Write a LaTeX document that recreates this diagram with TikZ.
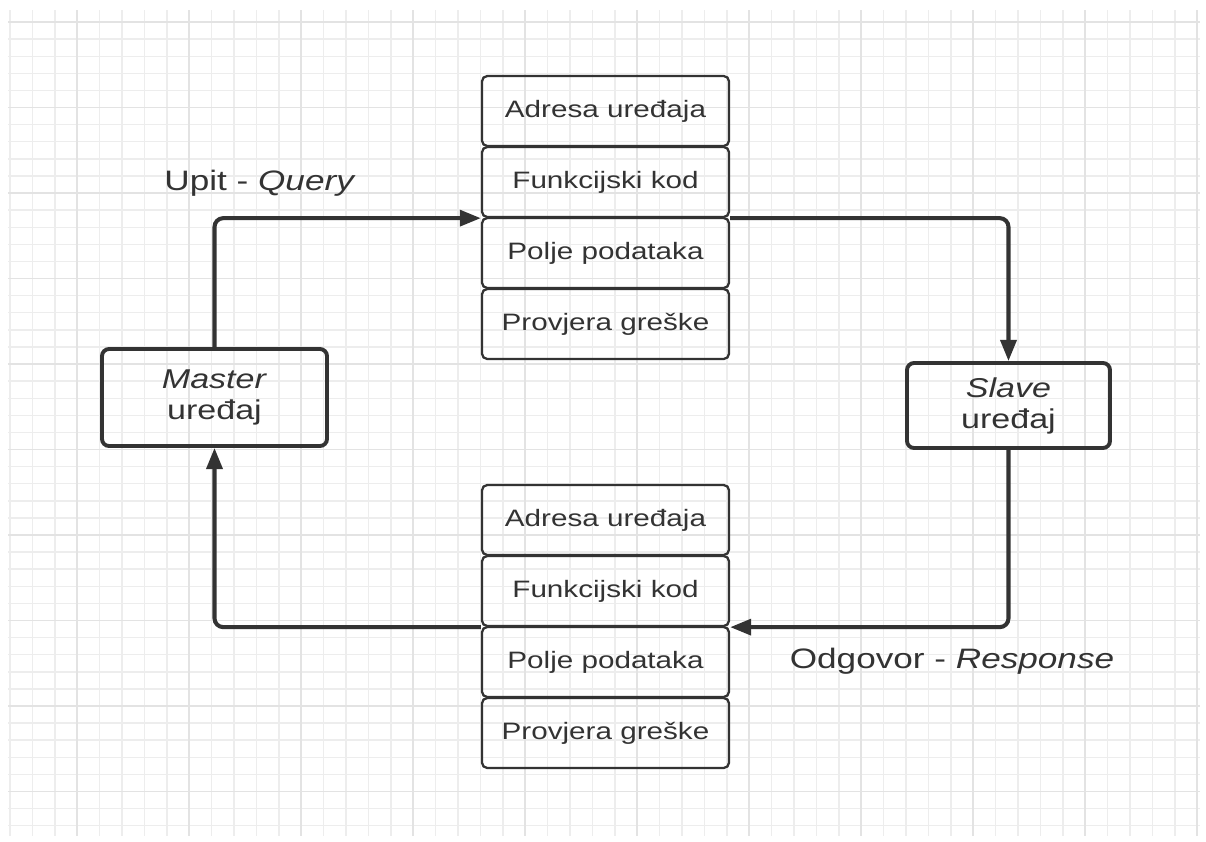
\documentclass[tikz,border=0pt]{standalone}
\usepackage{fontspec}
\setmainfont{Liberation Sans}[FakeStretch=1.25]
\usetikzlibrary{positioning,arrows.meta}
\definecolor{ink}{HTML}{333333}
\tikzset{
  field/.style={rectangle, draw=ink, line width=1.3pt, rounded corners=3pt, minimum width=4.94cm, minimum height=1.4cm, text=ink, font=\fontsize{13.5}{16}\selectfont},
  device/.style={rectangle, draw=ink, line width=2.2pt, rounded corners=4pt, text=ink, align=center, font=\fontsize{15.5}{17.6}\selectfont},
  flow/.style={draw=ink, line width=2.3pt, rounded corners=5pt, -{Triangle[length=12pt,width=9pt]}},
  caption/.style={text=ink, font=\fontsize{16}{19}\selectfont}
}

\begin{document}
\begin{tikzpicture}[node distance=1.42cm]
  \useasboundingbox (0,0) rectangle (24.12,-16.82);
  % grid paper
  \foreach \k in {0,...,53}
    \draw[black!7, line width=0.8pt] (0.2+0.448*\k,-0.2) -- (0.2+0.448*\k,-16.72);
  \foreach \k in {0,...,47}
    \draw[black!7, line width=0.8pt] (0.16,-0.44-0.342*\k) -- (24.0,-0.44-0.342*\k);
  \foreach \k in {3,8,...,53}
    \draw[black!11, line width=1pt] (0.2+0.448*\k,-0.2) -- (0.2+0.448*\k,-16.72);
  \foreach \k in {0,5,...,45}
    \draw[black!11, line width=1pt] (0.16,-0.44-0.342*\k) -- (24.0,-0.44-0.342*\k);

  % devices
  \node[device, minimum width=4.5cm, minimum height=1.94cm] (master) at (4.29,-7.95) {\textit{Master}\\uređaj};
  \node[device, minimum width=4.06cm, minimum height=1.7cm] (slave) at (20.17,-8.11) {\textit{Slave}\\uređaj};

  % query frame
  \node[field] (qa) at (12.11,-2.22) {Adresa uređaja};
  \node[field] (qf) [below of=qa] {Funkcijski kod};
  \node[field] (qp) [below of=qf] {Polje podataka};
  \node[field] (qe) [below of=qp] {Provjera greške};

  % response frame
  \node[field] (ra) at (12.11,-10.4) {Adresa uređaja};
  \node[field] (rf) [below of=ra] {Funkcijski kod};
  \node[field] (rp) [below of=rf] {Polje podataka};
  \node[field] (re) [below of=rp] {Provjera greške};

  \node[caption] (query) at (5.2,-3.66) {Upit - \textit{Query}};
  \node[caption] (response) at (19.04,-13.22) {Odgovor - \textit{Response}};

  \draw[flow] (master.north) |- (qf.south west);
  \draw[flow] (qf.south east) -| (slave.north);
  \draw[flow] (slave.south) |- (rf.south east);
  \draw[flow] (rf.south west) -| (master.south);
\end{tikzpicture}
\end{document}
